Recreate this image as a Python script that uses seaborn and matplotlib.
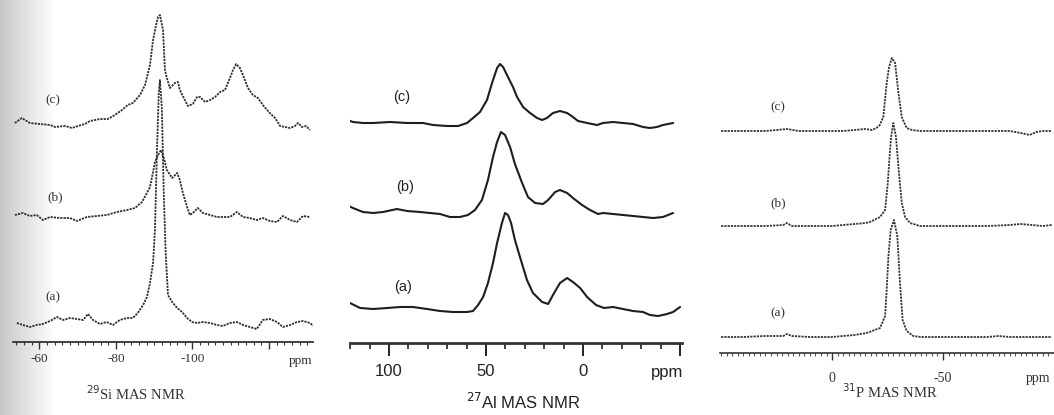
import numpy as np
import pandas as pd
import matplotlib
matplotlib.use("Agg")
import matplotlib.pyplot as plt
import seaborn as sns

# ---------------- data ----------------
# 29Si MAS NMR  (ppm, intensity above own baseline)
si_ppm_c = [-53.6, -55.4, -57.5, -60.1, -62.8, -64.1, -66.7, -68.5, -70.1, -71.9, -73.2, -75.8, -77.9, -79.7,
            -81.6, -83.1, -84.4, -86.3, -87.6, -88.9, -89.7, -90.5, -91.0, -91.5, -92.3, -92.8, -93.3, -94.1,
            -95.4, -96.2, -96.7, -98.0, -98.8, -100.1, -101.2, -102.0, -103.3, -104.6, -105.9, -107.2, -108.5,
            -109.8, -110.6, -111.4, -112.4, -113.2, -114.5, -115.8, -117.1, -118.4, -120.2, -121.6, -122.9,
            -124.2, -125.5, -126.8, -127.6, -128.6, -129.7, -130.7]
si_c = [2, 7, 2, 1, 0, -2, -1, -3, -1, 1, 4, 6, 6, 10,
        15, 20, 22, 30, 40, 60, 85, 100, 108, 110, 95, 55, 47, 37,
        42, 43, 35, 25, 19, 21, 28, 28, 23, 25, 28, 33, 35,
        47, 55, 61, 57, 50, 37, 30, 27, 20, 12, 7, -1,
        -2, -3, -1, 2, -2, -1, -5]
si_ppm_b = [-53.6, -55.7, -57.5, -59.3, -60.9, -62.8, -65.4, -68.0, -69.8, -72.4, -75.0, -77.6, -80.3, -82.9,
            -85.0, -86.8, -88.1, -88.9, -89.7, -90.2, -91.0, -91.8, -92.6, -93.3, -94.7, -96.0, -96.7, -97.5,
            -98.6, -99.3, -100.1, -101.4, -102.7, -104.6, -106.4, -107.9, -109.8, -111.6, -113.2, -115.0,
            -116.8, -118.4, -120.2, -122.1, -123.6, -125.5, -127.3, -128.9, -130.7]
si_b = [2, 4, 1, 2, -3, 0, -1, -1, -4, 0, 1, 2, 5, 7,
        9, 15, 24, 30, 45, 55, 62, 67, 58, 47, 39, 44, 37, 24,
        10, 2, 4, 9, 4, 2, 0, 0, 0, 5, 0, -1,
        -3, -1, -4, -5, 1, -3, -5, 1, 0]
si_ppm_a = [-54.1, -55.7, -57.5, -59.3, -60.9, -62.8, -64.6, -66.2, -68.0, -69.8, -71.4, -72.7, -74.0, -75.8,
            -77.6, -79.2, -81.0, -82.9, -84.4, -85.7, -87.1, -88.1, -88.9, -89.7, -90.2, -90.7, -91.2, -91.5,
            -92.0, -92.5, -93.0, -93.6, -94.7, -96.0, -97.3, -98.6, -99.9, -101.2, -102.7, -104.6, -106.4,
            -107.9, -109.8, -111.6, -113.2, -115.0, -116.8, -118.4, -120.2, -122.1, -123.6, -125.5, -127.3,
            -128.9, -130.7, -132.0]
si_a = [0, -2, -4, -2, -1, 2, 6, 3, 5, 4, 3, 9, 3, -1,
        1, -2, 3, 5, 5, 10, 18, 26, 40, 60, 93, 170, 230, 243,
        215, 130, 70, 28, 21, 15, 11, 5, 1, 0, 1, 0, -2,
        -3, 0, 1, -2, -4, -6, 3, 4, 1, -4, -2, 1,
        2, 0, -4]

# 27Al MAS NMR
al_ppm_c = [122.7, 118.6, 113.4, 108.2, 99.5, 90.7, 82.5, 77.3, 70.1, 64.4, 59.8, 56.7, 53.1, 49.5, 46.9,
            44.3, 42.8, 41.2, 38.7, 36.1, 34.0, 30.9, 27.3, 23.7, 21.1, 18.6, 15.5, 11.9, 8.2, 5.2, 2.6,
            -2.1, -7.2, -10.3, -15.5, -20.6, -25.8, -30.9, -34.5, -38.1, -41.2, -46.4]
al_c = [4, 1, 0, 0, 1, 0, 0, -2, -3, -3, 0, 5, 11, 23, 40,
        55, 59, 56, 46, 36, 26, 16, 10, 5, 3, 5, 10, 12, 10, 6, 2,
        0, -2, 0, 1, 0, -1, -4, -5, -4, -2, 0]
al_ppm_b = [122.7, 118.6, 113.4, 108.2, 103.1, 95.9, 90.7, 84.0, 78.9, 73.7, 68.6, 63.4, 59.3, 55.7, 52.1,
            49.0, 46.4, 44.3, 42.3, 40.2, 37.6, 35.1, 31.4, 28.4, 24.7, 20.6, 18.0, 14.4, 11.9, 8.2, 5.2,
            0.5, -3.6, -7.7, -10.3, -15.5, -20.6, -25.8, -30.9, -36.1, -41.2, -46.4]
al_b = [8, 4, 0, -1, 0, 3, 1, 0, -1, -2, -5, -5, -3, 2, 12,
        32, 55, 70, 80, 77, 65, 48, 29, 15, 9, 8, 12, 20, 22, 19, 14,
        7, 2, -2, -1, -2, -3, -4, -5, -6, -5, -1]
al_ppm_a = [120.1, 114.9, 108.2, 101.0, 94.3, 87.6, 80.4, 73.7, 67.0, 59.8, 56.7, 54.1, 51.5, 49.0, 46.4,
            44.3, 41.8, 40.2, 38.7, 37.1, 35.1, 32.5, 28.9, 25.8, 21.1, 18.0, 15.5, 11.9, 8.2, 5.2, 1.5,
            -2.1, -6.7, -10.8, -15.5, -20.6, -25.8, -30.9, -34.5, -38.7, -43.3, -46.4, -50.0]
al_a = [6, 1, 0, 1, 2, 2, 0, -2, -3, -3, -2, 4, 12, 26, 46,
        66, 86, 96, 94, 86, 69, 52, 29, 16, 7, 5, 14, 26, 31, 27, 21,
        12, 4, 1, 2, 0, -2, -3, -6, -7, -5, -3, 2]

# 31P MAS NMR
p_ppm_c = [50, 40, 30, 25, 20.4, 15, 10, 0, -5, -10, -15, -18, -20, -21.5, -23.1, -24.6, -25.7, -26.9,
           -28.4, -29.9, -31.4, -33.6, -36, -39.6, -50, -60, -70, -80, -85, -89, -92, -95, -99]
p_c = [0, 0, 0, 1, 2, 0, 0, 0, 0, 1, 2, 1, 3, 6, 14, 48, 64, 73,
       68, 38, 14, 3, 1, 0, 0, 0, 0, 0, -2, -4, -1, 0, 0]
p_ppm_b = [50, 40, 30, 22, 20.4, 18, 10, 0, -5, -10, -15, -17.1, -21.6, -23.9, -25.1, -25.8, -26.6,
           -27.6, -28.8, -29.9, -31.4, -32.9, -35.1, -39.6, -50, -60, -70, -80, -85, -90, -95, -99]
p_b = [0, 0, 0, 1, 3, 0, 0, 0, 1, 2, 3, 4, 9, 16, 43, 66, 89,
       103, 89, 59, 23, 9, 3, 0, 0, 0, 0, 1, 2, 1, 0, 1]
p_ppm_a = [50, 40, 30, 22, 20.4, 18, 10, 0, -5, -10, -15.6, -21.6, -23.9, -24.6, -25.4, -26.4, -27.9,
           -29.4, -30.6, -31.8, -33.6, -36.6, -40, -50, -60, -70, -75, -80, -90, -99]
p_a = [0, 0, 1, 1, 3, 1, 0, 0, 1, 2, 4, 9, 21, 47, 81, 107, 117,
       101, 54, 17, 6, 1, 0, 0, 0, 0, 1, 0, 0, 0]

trace_labels = ["(a)", "(b)", "(c)"]
si_ticks = [-60, -80, -100, -120]
si_ticklabels = ["-60", "-80", "-100", ""]
al_ticks = [100, 50, 0, -50]
al_ticklabels = ["100", "50", "0", ""]
p_ticks = [0, -50]
p_ticklabels = ["0", "-50"]
titles = [r"$^{29}$Si MAS NMR", r"$^{27}$Al MAS NMR", r"$^{31}$P MAS NMR"]

# ---------------- figure ----------------
sns.set_style("white")
W, H = 1054, 415
fig = plt.figure(figsize=(W / 100, H / 100), dpi=100, facecolor="white")

# scanner shading on the left edge
bg = fig.add_axes([0, 0, 1, 1], zorder=-5)
xs = np.arange(W)
grad = np.ones((2, W))
grad[:, :] = np.clip(0.78 + 0.22 * xs / 55.0, 0, 1)
bg.imshow(grad, extent=[0, W, 0, H], aspect="auto", cmap="gray", vmin=0, vmax=1)
bg.set_xlim(0, W); bg.set_ylim(0, H)
bg.axis("off")


def px_axes(x0, x1, ybot, ytop=0):
    return fig.add_axes([x0 / W, 1 - ybot / H, (x1 - x0) / W, (ybot - ytop) / H])


def style_axes(ax, lw):
    for s in ["top", "left", "right"]:
        ax.spines[s].set_visible(False)
    ax.spines["bottom"].set_linewidth(lw)
    ax.spines["bottom"].set_color("#333333")
    ax.set_yticks([])
    ax.patch.set_alpha(0)
    ax.set_xlabel("")
    ax.set_ylabel("")


def draw(ax, ppm, inten, offset, color, lw, ls):
    df = pd.DataFrame({"ppm": ppm, "y": np.asarray(inten, float) + offset})
    sns.lineplot(data=df, x="ppm", y="y", ax=ax, color=color, lw=lw, linestyle=ls,
                 sort=False, estimator=None, legend=False)


dotted = (0, (1.2, 0.6))
serif = ["Liberation Serif", "DejaVu Serif"]
sans = ["Liberation Sans", "DejaVu Sans"]

# ---- Si panel ----
ax1 = px_axes(13, 313, 342)
for ppm, val, off in [(si_ppm_a, si_a, 19), (si_ppm_b, si_b, 125), (si_ppm_c, si_c, 217)]:
    draw(ax1, ppm, val, off, "#2e2e2e", 1.3, dotted)
ax1.set_xlim(-53.1, -131.5)
ax1.set_ylim(0, 342)
style_axes(ax1, 1.3)
ax1.set_xticks(si_ticks)
ax1.set_xticklabels(si_ticklabels, fontfamily=serif, fontsize=9.5, color="#333333")
ax1.set_xticks(np.arange(-54, -131, -2), minor=True)
ax1.tick_params(axis="x", which="major", direction="out", length=5, width=1, pad=3, bottom=True, color="#333333")
ax1.tick_params(axis="x", which="minor", direction="out", length=2, width=0.8, bottom=True, color="#333333")
for lab, (xp, yv) in zip(trace_labels, [(-63.5, 45), (-64.1, 145), (-63.5, 242)]):
    ax1.text(xp, yv, lab, fontfamily=serif, fontsize=9.5, ha="center", va="center", color="#333333")
fig.text(301 / W, 1 - 361 / H, "ppm", fontfamily=serif, fontsize=9.5, ha="center", va="center", color="#333333")
fig.text(136 / W, 1 - 394 / H, titles[0], fontfamily=serif, fontsize=10.5, ha="center", va="center", color="#333333")

# ---- Al panel ----
ax2 = px_axes(350, 682, 343)
for ppm, val, off in [(al_ppm_a, al_a, 34), (al_ppm_b, al_b, 131), (al_ppm_c, al_c, 220)]:
    draw(ax2, ppm, val, off, "#1e1e1e", 1.5, "-")
ax2.set_xlim(120.1, -51.0)
ax2.set_ylim(0, 343)
style_axes(ax2, 2.0)
ax2.set_xticks(al_ticks)
ax2.set_xticklabels(al_ticklabels, fontfamily=sans, fontsize=12, color="#222222")
ax2.set_xticks(np.arange(120, -51, -10), minor=True)
ax2.tick_params(axis="x", which="major", direction="out", length=9, width=1.4, pad=6, bottom=True, color="#222222")
ax2.tick_params(axis="x", which="minor", direction="out", length=4, width=1.2, bottom=True, color="#222222")
for lab, (xp, yv) in zip(trace_labels, [(92.8, 56), (91.8, 156), (93.3, 246)]):
    ax2.text(xp, yv, lab, fontfamily=sans, fontsize=10.5, ha="center", va="center", color="#222222")
fig.text(667 / W, 1 - 372 / H, "ppm", fontfamily=sans, fontsize=12, ha="center", va="center", color="#222222")
fig.text(523 / W, 1 - 402 / H, titles[1], fontfamily=sans, fontsize=12, ha="center", va="center", color="#222222")

# ---- P panel ----
ax3 = px_axes(720, 1054, 353)
for ppm, val, off in [(p_ppm_a, p_a, 16), (p_ppm_b, p_b, 127), (p_ppm_c, p_c, 222)]:
    draw(ax3, ppm, val, off, "#333333", 1.3, dotted)
ax3.set_xlim(50.5, -100.0)
ax3.set_ylim(0, 353)
style_axes(ax3, 1.2)
ax3.set_xticks(p_ticks)
ax3.set_xticklabels(p_ticklabels, fontfamily=serif, fontsize=10, color="#333333")
ax3.set_xticks(np.arange(50, -100, -2.5), minor=True)
ax3.tick_params(axis="x", which="major", direction="out", length=5, width=1, pad=9, bottom=True, color="#333333")
ax3.tick_params(axis="x", which="minor", direction="out", length=1.8, width=0.8, bottom=True, color="#555555")
for lab, (xp, yv) in zip(trace_labels, [(24.3, 40), (24.3, 150), (24.3, 246)]):
    ax3.text(xp, yv, lab, fontfamily=serif, fontsize=9.5, ha="center", va="center", color="#333333")
fig.text(1038 / W, 1 - 378 / H, "ppm", fontfamily=serif, fontsize=10, ha="center", va="center", color="#333333")
fig.text(890 / W, 1 - 392 / H, titles[2], fontfamily=serif, fontsize=10.5, ha="center", va="center", color="#333333")

fig.savefig("out.png", dpi=100, facecolor="white")
